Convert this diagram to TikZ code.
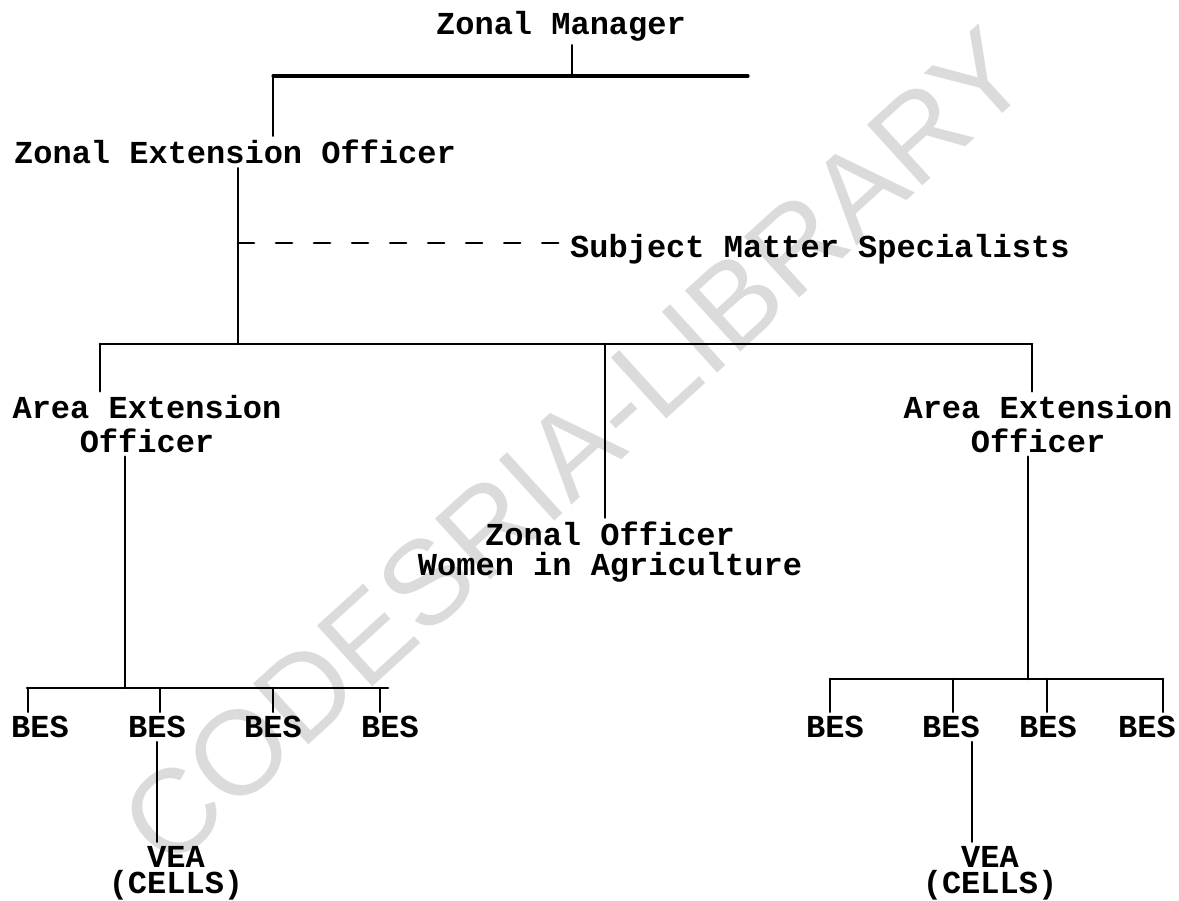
\documentclass[tikz,border=0pt]{standalone}
\usepackage{fontspec}
\setmonofont{Liberation Mono}
\setsansfont{Liberation Sans}
\usepackage{tikz}

\begin{document}
\begin{tikzpicture}[x=0.01cm,y=-0.01cm,line cap=round,
  post/.style={font=\fontsize{9.1}{9.5}\selectfont\ttfamily\bfseries,inner sep=1pt,align=center},
  link/.style={line width=0.75pt},
  wmark/.style={font=\fontsize{34}{34}\selectfont\sffamily,text=black!14,rotate=42.3}]
\useasboundingbox (0,0) rectangle (1179,901);
\node[wmark] (wm) at (575,447) {CODESRIA-LIBRARY};
\node[post] (zm) at (561,26) {Zonal Manager};
\node[post] (zeo) at (235,152) {Zonal Extension Officer};
\node[post,anchor=west] (sms) at (566,249) {Subject Matter Specialists};
\node[post] (aeoa) at (147,424) {Area Extension\\Officer};
\node[post] (aeob) at (1038,424) {Area Extension\\Officer};
\node[post] (zowa) at (610,552) {Zonal Officer\\[-1pt]Women in Agriculture};
\foreach \i/\x in {1/40,2/157,3/273,4/390,5/835,6/951,7/1048,8/1147}
  \node[post] (bes\i) at (\x,727) {BES};
\node[post] (veaa) at (176,873) {VEA\\[-2pt](CELLS)};
\node[post] (veab) at (990,873) {VEA\\[-2pt](CELLS)};
\coordinate (ja) at (273,76);
\coordinate (jm) at (572,76);
\coordinate (jb) at (748,76);
\coordinate (ka) at (100,344);
\coordinate (kz) at (238,344);
\coordinate (kw) at (605,344);
\coordinate (kb) at (1032,344);
\coordinate (ds) at (238,243);
\coordinate (pa) at (27,688);
\coordinate (pm) at (125,688);
\coordinate (pb) at (388,688);
\coordinate (qa) at (830,679);
\coordinate (qm) at (1028,679);
\coordinate (qb) at (1163,679);
\draw[link] (zm.south -| jm) -- (jm);
\draw[link,line width=0.9pt] (ja) -- (jb);
\draw[link] (ja) -- (ja |- zeo.north);
\draw[link] (zeo.south -| kz) -- (kz);
\draw[link,dash pattern=on 0.16cm off 0.22cm] (ds) -- (ds -| sms.west);
\draw[link] (ka) -- (kb);
\draw[link] (ka) -- (ka |- aeoa.north);
\draw[link] (kw) -- (kw |- zowa.north);
\draw[link] (kb) -- (kb |- aeob.north);
\draw[link] (aeoa.south -| pm) -- (pm);
\draw[link] (pa) -- (pb);
\foreach \i/\x in {1/28,2/160,3/273,4/380}
  \draw[link] (\x,688) -- (\x,0 |- bes\i.north);
\draw[link] (aeob.south -| qm) -- (qm);
\draw[link] (qa) -- (qb);
\foreach \i/\x in {5/830,6/953,7/1047,8/1163}
  \draw[link] (\x,679) -- (\x,0 |- bes\i.north);
\draw[link] (bes2.south) -- (bes2.south |- veaa.north);
\draw[link] (bes6.south -| 972,0) -- (972,0 |- veab.north);
\end{tikzpicture}
\end{document}
